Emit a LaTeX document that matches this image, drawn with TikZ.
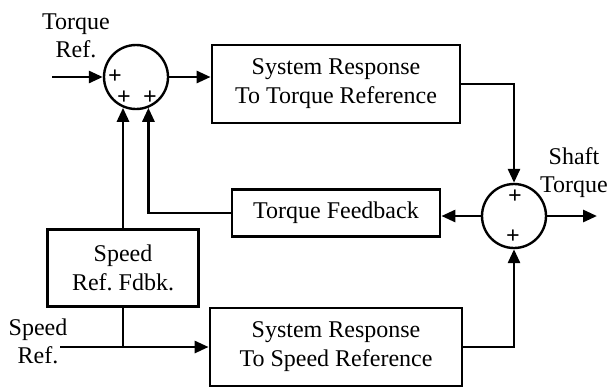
\documentclass[tikz,border=0pt]{standalone}
\usepackage{fontspec}
\setmainfont{Liberation Serif}
\usepackage{tikz}
\usetikzlibrary{calc}
\usetikzlibrary{shapes.geometric, arrows.meta}
\tikzstyle{blk} = [rectangle,
text centered,
align=center,
line width=1.4pt,
draw=black,
fill=white]
\tikzstyle{sumnode} = [circle, minimum size=32pt, inner sep=0pt, line width=1.2pt, draw=black]
\tikzstyle{sgn} = [inner sep=0pt, font=\fontsize{12}{12}\selectfont\bfseries]
\tikzstyle{lbl} = [align=center, inner sep=0pt, font=\fontsize{12}{14}\selectfont]
\tikzstyle{arrow} = [line width=1.4pt,-{Triangle[length=7pt,width=6pt]}]
\tikzstyle{wire} = [line width=1.4pt]

\begin{document}
\begin{tikzpicture}[x=0.5pt, y=-0.5pt, font=\fontsize{12}{14.5}\selectfont]
    \useasboundingbox (0,0) rectangle (610,387);

    \node (sumT) [sumnode] at (136,77) {};
    \node (sumS) [sumnode] at (514,216) {};

    \node (sysT) [blk, minimum width=124pt, minimum height=39pt] at (336,84) {System Response\\To Torque Reference};
    \node (fb) [blk, minimum width=104pt, minimum height=23.5pt] at (336,213) {Torque Feedback};
    \node (spd) [blk, minimum width=75.5pt, minimum height=38.5pt] at (123,268) {Speed\\Ref.\ Fdbk.};
    \node (sysS) [blk, minimum width=126pt, minimum height=39pt] at (336,347) {System Response\\To Speed Reference};

    \node (torqueref) [lbl] at (76,36) {Torque\\Ref.};
    \node (speedref) [lbl] at (38,341) {Speed\\Ref.};
    \node (shaft) [lbl] at (574,173) {Shaft\\Torque};

    % signs
    \node (pT1) [sgn] at (115,77) {+};
    \node (pT2) [sgn] at (124,98) {+};
    \node (pT3) [sgn] at (150,98) {+};
    \node (pS1) [sgn] at (515,197) {+};
    \node (pS2) [sgn] at (513,237) {+};

    \coordinate (tin) at (52,77);
    \coordinate (sin) at (60,347);
    \coordinate (tout) at (597,216);

    % forward paths
    \draw [arrow] (tin) -- (sumT.west);
    \draw [arrow] (sumT.east) -- (sumT.east -| sysT.west);
    \draw [arrow] (sysT.east) -| (sumS.north);
    \draw [arrow] (sin) -- (sysS.west);
    \draw [arrow] (sysS.east) -| (sumS.south);
    \draw [arrow] (sumS.east) -- (tout);

    % feedback paths
    \draw [arrow] (sumS.west) -- (sumS.west -| fb.east);
    \draw [arrow] (fb.west) -| (sumT.-68);
    \draw [arrow] (spd.north) -- (spd.north |- sumT.-112);
    \draw [wire] (spd.south) -- (spd.south |- sysS.west);
  \end{tikzpicture}
\end{document}
